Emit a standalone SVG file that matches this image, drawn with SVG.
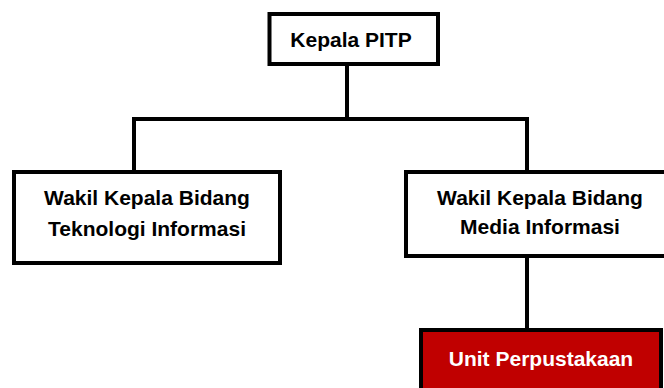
<svg xmlns="http://www.w3.org/2000/svg" width="664" height="388" viewBox="0 0 664 388">
  <style>
    .box { fill: #ffffff; stroke: #000000; stroke-width: 4; }
    .red { fill: #C00000; stroke: #000000; stroke-width: 4; }
    .lbl { font-family: "Liberation Sans", Arial, sans-serif; font-weight: bold; font-size: 21px; fill: #000000; text-anchor: middle; }
    .wlbl { fill: #ffffff; }
    .conn { fill: none; stroke: #000000; stroke-width: 4; }
  </style>
  <rect width="664" height="388" fill="#ffffff"/>
  <g id="connectors">
    <polyline class="conn" points="347,64 347,119"/>
    <polyline class="conn" points="134,172 134,119 527,119 527,172"/>
    <polyline class="conn" points="527,256 527,330"/>
  </g>
  <g id="kepala">
    <rect class="box" x="269.5" y="14" width="168.5" height="50"/>
    <text class="lbl" x="351" y="47">Kepala PITP</text>
  </g>
  <g id="wakil-ti">
    <rect class="box" x="14" y="172" width="266" height="91"/>
    <text class="lbl" x="147" y="205">Wakil Kepala Bidang</text>
    <text class="lbl" x="147" y="236">Teknologi Informasi</text>
  </g>
  <g id="wakil-mi">
    <rect class="box" x="406" y="172" width="264" height="84"/>
    <text class="lbl" x="540" y="205">Wakil Kepala Bidang</text>
    <text class="lbl" x="540" y="234">Media Informasi</text>
  </g>
  <g id="perpustakaan">
    <rect class="red" x="421" y="330" width="240" height="70"/>
    <text class="lbl wlbl" x="541" y="366">Unit Perpustakaan</text>
  </g>
</svg>
